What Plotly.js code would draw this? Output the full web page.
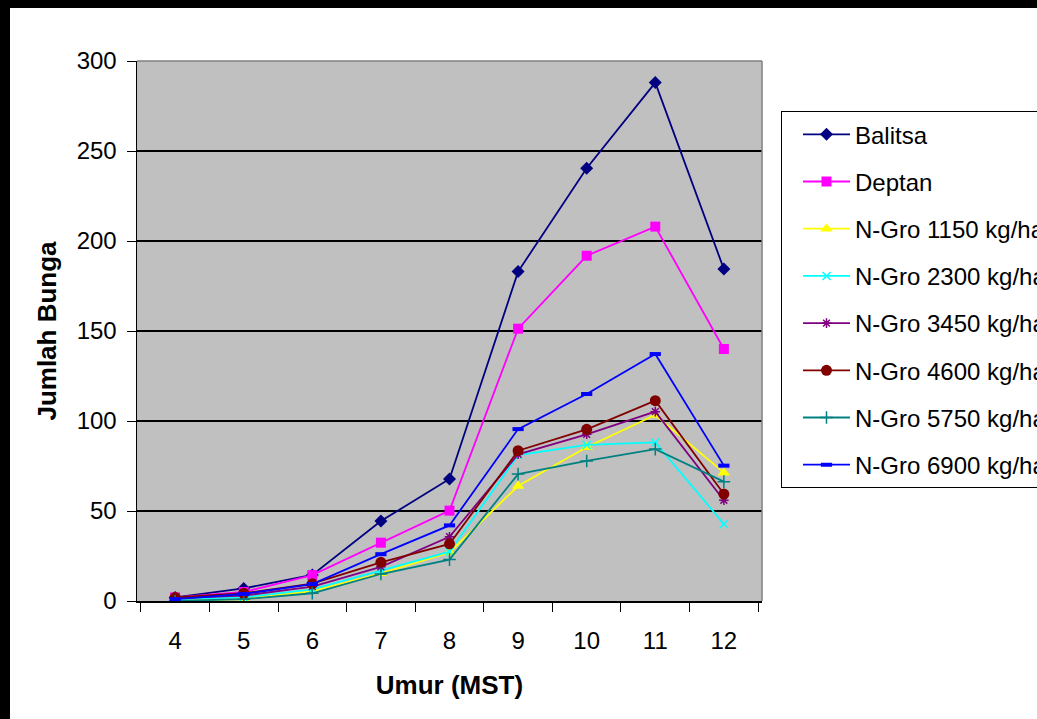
<!DOCTYPE html>
<html>
<head>
<meta charset="utf-8">
<script src="https://cdn.plot.ly/plotly-3.0.1.min.js"></script>
<style>
html,body{margin:0;padding:0;background:#000;width:1037px;height:719px;overflow:hidden;}
#chart{position:absolute;left:10px;top:8px;width:1027px;height:711px;background:#fff;}
</style>
</head>
<body>
<div id="chart"></div>
<script>
const categories = ["4","5","6","7","8","9","10","11","12"];
const seriesNames = ["Balitsa","Deptan","N-Gro 1150 kg/ha","N-Gro 2300 kg/ha","N-Gro 3450 kg/ha","N-Gro 4600 kg/ha","N-Gro 5750 kg/ha","N-Gro 6900 kg/ha"];
const balitsa  = [2, 7, 14.5, 44.4, 67.8, 183, 240.4, 288, 184.4];
const deptan   = [2, 5, 14.4, 32.4, 50.2, 151.3, 191.8, 208, 140];
const ngro1150 = [0, 1, 5.5, 15.4, 27, 63.9, 85.4, 103.3, 71.3];
const ngro2300 = [1, 2, 6.5, 17, 27.4, 81, 86.7, 88.1, 42.8];
const ngro3450 = [1.5, 3, 8, 19, 35.7, 81.5, 92.6, 105.2, 56];
const ngro4600 = [2, 4.3, 9.6, 21.5, 31.7, 83.5, 95.4, 111.3, 59.4];
const ngro5750 = [0, 1, 4.3, 15, 23, 70.5, 77.8, 84.4, 66.3];
const ngro6900 = [1, 3.9, 9.4, 26, 42, 95.5, 115, 137.2, 75.2];
const yTicks = [0, 50, 100, 150, 200, 250, 300];

const values = [balitsa, deptan, ngro1150, ngro2300, ngro3450, ngro4600, ngro5750, ngro6900];
const colors = ["#000080","#FF00FF","#FFFF00","#00FFFF","#800080","#800000","#008080","#0000FF"];
const symbols = ["diamond","square","triangle-up","x-thin-open","asterisk-open","circle","cross-thin-open","line-ew-open"];
const sizes = [10, 10, 11, 8, 8, 11, 9, 8];
const mlw = [0, 0, 0, 1.5, 1.5, 0, 1.5, 4];

const traces = values.map((v, i) => ({
  x: categories,
  y: v,
  name: seriesNames[i],
  type: "scatter",
  mode: "lines+markers",
  legendgroup: "g" + i,
  line: {color: colors[i], width: 1.8},
  marker: {symbol: symbols[i], size: sizes[i], color: colors[i], line: {color: colors[i], width: mlw[i]}}
}));

const font = "Arial, 'Liberation Sans', sans-serif";
const layout = {
  width: 1027, height: 711,
  margin: {l: 127, r: 275, t: 53, b: 118, autoexpand: false},
  paper_bgcolor: "#ffffff",
  plot_bgcolor: "#C0C0C0",
  font: {family: font, size: 24, color: "#000"},
  showlegend: true,
  legend: {
    x: 1.0304, y: 0.907, xanchor: "left", yanchor: "top",
    bgcolor: "#fff", bordercolor: "#000", borderwidth: 1,
    font: {family: font, size: 24, color: "#000"},
    traceorder: "grouped", tracegroupgap: 13,
    itemwidth: 47, indentation: 16
  },
  xaxis: {
    type: "category",
    tickson: "boundaries",
    ticks: "outside", ticklen: 9, tickcolor: "#000", tickwidth: 1,
    showline: true, linecolor: "#000", linewidth: 2,
    showgrid: false, zeroline: false,
    ticklabelstandoff: 17,
    tickfont: {family: font, size: 24, color: "#000"},
    title: {text: "<b>Umur (MST)</b>", font: {family: font, size: 26, color: "#000"}, standoff: 23}
  },
  yaxis: {
    range: [0, 300], tickvals: yTicks,
    ticks: "outside", ticklen: 9, tickcolor: "#000", tickwidth: 1,
    showline: true, linecolor: "#000", linewidth: 1.5,
    showgrid: true, gridcolor: "#000", gridwidth: 1.5,
    zeroline: false,
    ticklabelstandoff: 5,
    tickfont: {family: font, size: 24, color: "#000"},
    title: {text: "<b>Jumlah Bunga</b>", font: {family: font, size: 26, color: "#000"}, standoff: 12}
  },
  shapes: [
    {type: "line", xref: "paper", yref: "paper", x0: 0, x1: 1, y0: 1, y1: 1, line: {color: "#808080", width: 1.5}},
    {type: "line", xref: "paper", yref: "paper", x0: 1, x1: 1, y0: 0, y1: 1, line: {color: "#808080", width: 1.5}}
  ]
};

Plotly.newPlot("chart", traces, layout, {displayModeBar: false, staticPlot: true});
</script>
</body>
</html>
